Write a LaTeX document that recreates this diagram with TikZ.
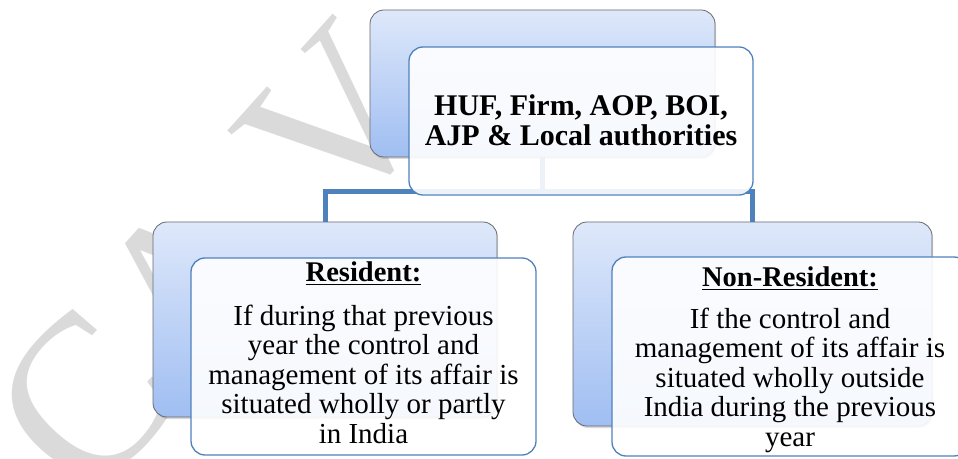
\documentclass[tikz,border=0pt]{standalone}
\usepackage{fontspec}
\setmainfont{Liberation Serif}
\usetikzlibrary{shadows}
\definecolor{accent}{RGB}{79,129,189}
\definecolor{backtop}{RGB}{222,232,250}
\definecolor{backbot}{RGB}{160,190,242}
\definecolor{backline}{RGB}{105,105,110}
\definecolor{wmgray}{RGB}{218,218,218}
\begin{document}
\begin{tikzpicture}[x=1pt,y=1pt,
  backbox/.style={draw=backline, line width=0.8pt, rounded corners=14pt,
    top color=backtop, bottom color=backbot,
    drop shadow={shadow xshift=1pt, shadow yshift=-2pt, opacity=0.3},
    inner sep=0},
  frontbox/.style={draw=accent, line width=1.3pt, rounded corners=14pt,
    fill=white, fill opacity=0.9, inner sep=0},
  conn/.style={draw=accent, line width=5pt},
  headtext/.style={font=\bfseries\fontsize{28.5}{29.5}\selectfont, inner sep=0, anchor=base},
  bodytext/.style={font=\fontsize{29}{29.5}\selectfont, inner sep=0, anchor=north, align=center},
  toptext/.style={font=\bfseries\fontsize{30}{30}\selectfont, inner sep=0, anchor=north, align=center},
  wmark/.style={font=\fontsize{225}{225}\selectfont, text=wmgray, inner sep=0, anchor=base west, rotate=48},
]
\useasboundingbox (0,0) rectangle (958,458);

% faint watermark lettering behind the chart
\begin{scope}
  \clip (0,0) rectangle (958,458);
  \node[wmark] (wm) at (89,-48) {CA V};
\end{scope}

% shaded back panels
\node[backbox, minimum width=345pt, minimum height=147pt] (topback) at (542.5,374.5) {};
\node[backbox, minimum width=344pt, minimum height=195pt] (lback) at (325,138.5) {};
\node[backbox, minimum width=359pt, minimum height=204pt] (rback) at (752.5,134) {};

% hierarchy connectors
\coordinate (bus) at (0,266);
\draw[conn] (topback.south) -- (topback.south |- bus);
\draw[conn] (lback.north) |- (bus -| rback.north) -- (rback.north);

% white front panels
\node[frontbox, minimum width=344pt, minimum height=148pt] (topfront) at (581,337) {};
\node[frontbox, minimum width=345pt, minimum height=197pt] (lfront) at (363.5,101.5) {};
\node[frontbox, minimum width=356pt, minimum height=199pt] (rfront) at (790,101.5) {};

% texts
\node[toptext] (toplabel) at (581,364) {\strut HUF, Firm, AOP, BOI,\\AJP \& Local authorities};

\node[headtext] (lhead) at (363.5,176) {\underline{Resident:}};
\node[bodytext] (lbody) at (363.5,153.65) {\strut If during that previous\\year the control and\\management of its affair is\\situated wholly or partly\\in India};

\node[headtext] (rhead) at (790,171) {\underline{Non-Resident:}};
\node[bodytext] (rbody) at (790,150.8) {\strut If the control and\\management of its affair is\\situated wholly outside\\India during the previous\\year};
\end{tikzpicture}
\end{document}
